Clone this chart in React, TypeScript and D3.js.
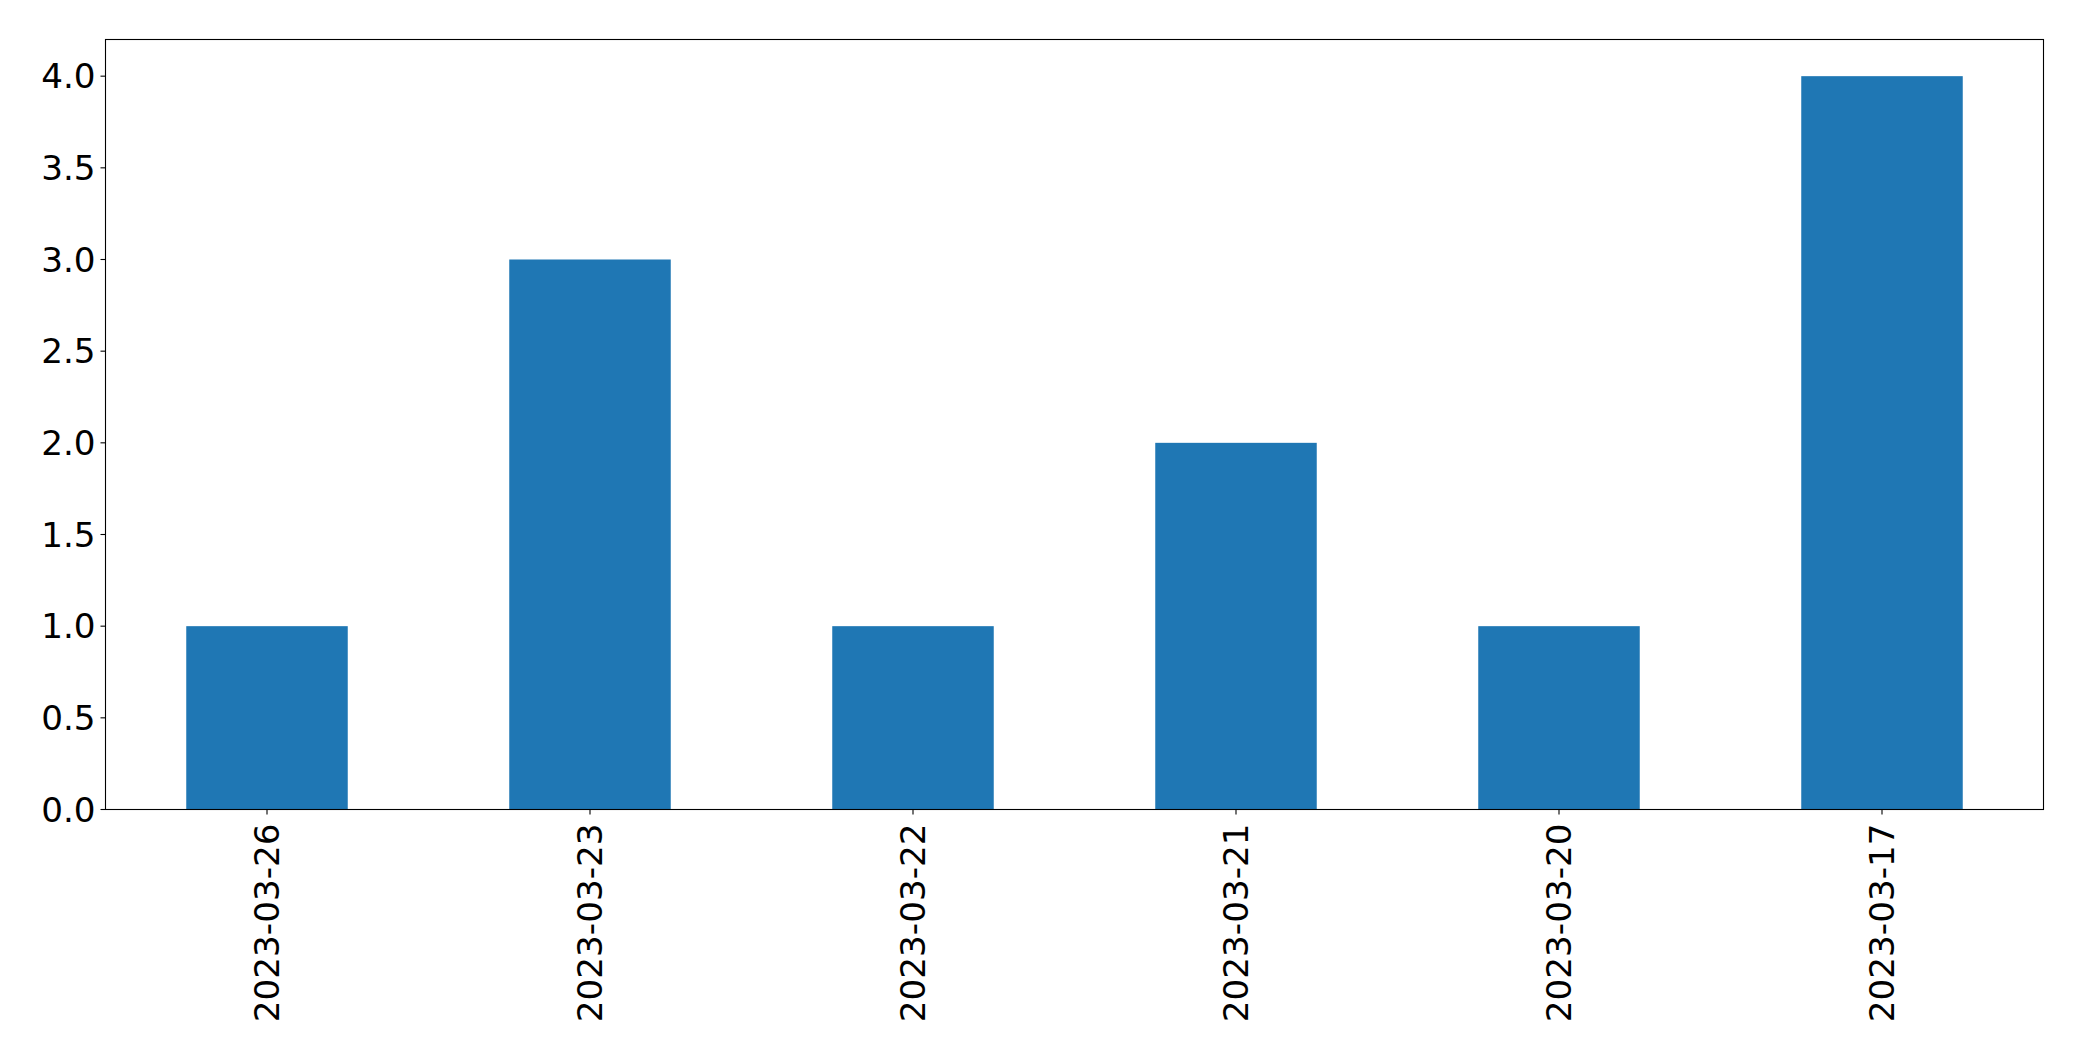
import { useEffect, useRef } from "react";
import * as d3 from "d3";

const categories = ["2023-03-26", "2023-03-23", "2023-03-22", "2023-03-21", "2023-03-20", "2023-03-17"];
const values = [1, 3, 1, 2, 1, 4];
const yTicks = [0, 0.5, 1, 1.5, 2, 2.5, 3, 3.5, 4];

export default function App() {
  const ref = useRef<SVGSVGElement | null>(null);

  useEffect(() => {
    if (!ref.current) return;
    const svg = d3.select(ref.current);
    svg.selectAll("*").remove();

    const width = 2082;
    const height = 1061;
    const margin = { top: 39.5, right: 38.5, bottom: 251.5, left: 105.5 };
    const w = width - margin.left - margin.right;
    const h = height - margin.top - margin.bottom;
    const font = "DejaVu Sans, sans-serif";
    const fs = 34.2;

    const x = d3.scaleBand<string>().domain(categories).range([0, w]).paddingInner(0.5).paddingOuter(0.25);
    const y = d3.scaleLinear().domain([0, 4.2]).range([h, 0]);

    const g = svg.append("g").attr("transform", `translate(${margin.left},${margin.top})`);

    g.selectAll("rect.bar")
      .data(values)
      .join("rect")
      .attr("class", "bar")
      .attr("x", (_, i) => x(categories[i])!)
      .attr("width", x.bandwidth())
      .attr("y", d => y(d))
      .attr("height", d => y(0) - y(d))
      .attr("fill", "#1f77b4");

    // frame
    g.append("rect")
      .attr("width", w)
      .attr("height", h)
      .attr("fill", "none")
      .attr("stroke", "#000")
      .attr("stroke-width", 1.1);

    // y axis
    const yg = g.append("g");
    yg.selectAll("line")
      .data(yTicks)
      .join("line")
      .attr("x1", -5)
      .attr("x2", 0)
      .attr("y1", d => y(d))
      .attr("y2", d => y(d))
      .attr("stroke", "#000")
      .attr("stroke-width", 1.1);
    yg.selectAll("text")
      .data(yTicks)
      .join("text")
      .attr("x", -10)
      .attr("y", d => y(d))
      .attr("dy", "0.36em")
      .attr("text-anchor", "end")
      .attr("font-family", font)
      .attr("font-size", fs)
      .attr("fill", "#000")
      .text(d => d3.format(".1f")(d));

    // x axis
    const xg = g.append("g").attr("transform", `translate(0,${h})`);
    xg.selectAll("line")
      .data(categories)
      .join("line")
      .attr("x1", d => x(d)! + x.bandwidth() / 2)
      .attr("x2", d => x(d)! + x.bandwidth() / 2)
      .attr("y1", 0)
      .attr("y2", 5)
      .attr("stroke", "#000")
      .attr("stroke-width", 1.1);
    xg.selectAll("text")
      .data(categories)
      .join("text")
      .attr("transform", d => `translate(${x(d)! + x.bandwidth() / 2},${14}) rotate(-90)`)
      .attr("dy", "0.36em")
      .attr("text-anchor", "end")
      .attr("font-family", font)
      .attr("font-size", fs)
      .attr("fill", "#000")
      .text(d => d);
  }, []);

  return (
    <svg
      ref={ref}
      width={2082}
      height={1061}
      style={{ position: "absolute", top: 0, left: 0, background: "#fff" }}
    />
  );
}
